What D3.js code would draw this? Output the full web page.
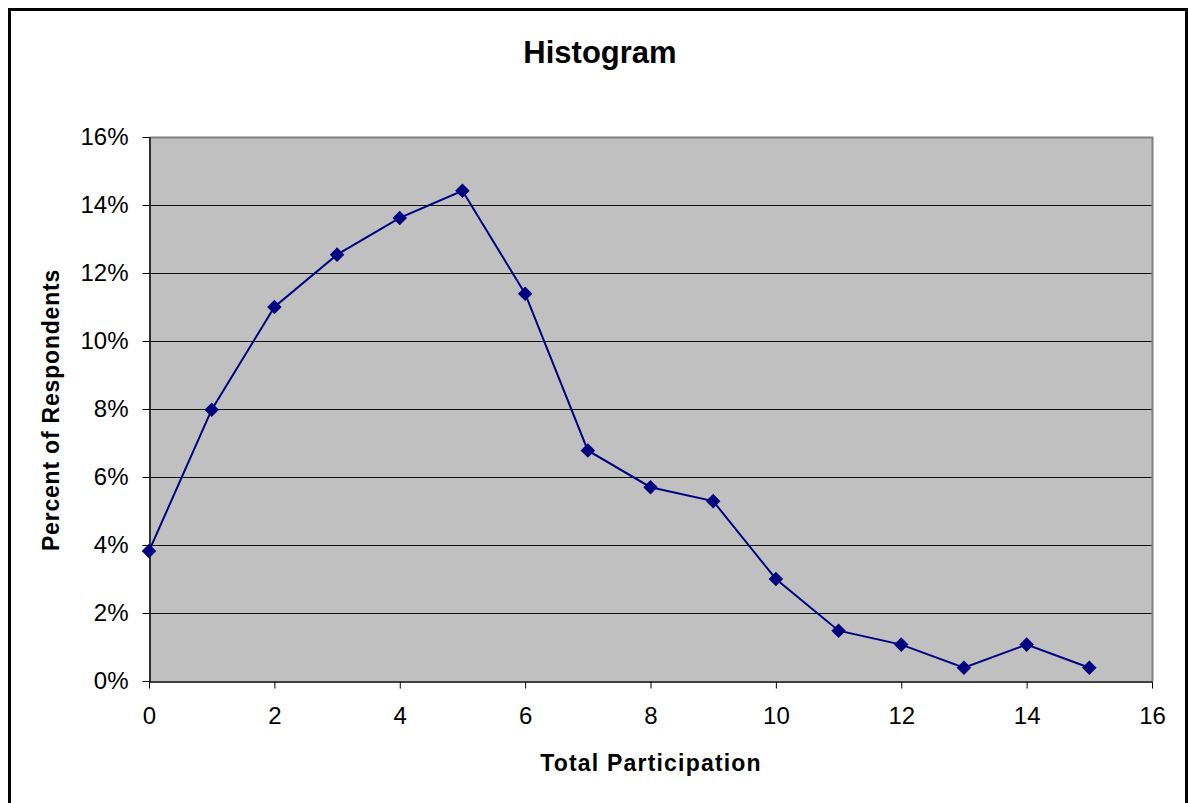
<!DOCTYPE html>
<html>
<head>
<meta charset="utf-8">
<script src="https://cdn.jsdelivr.net/npm/d3@7"></script>
<style>
  body { margin: 0; background: #fff; }
  text { font-family: "Liberation Sans", Arial, sans-serif; fill: #000; }
</style>
</head>
<body>
<svg id="chart"></svg>
<script>
// data
var participation = [0, 1, 2, 3, 4, 5, 6, 7, 8, 9, 10, 11, 12, 13, 14, 15];
var percentRespondents = [3.82, 7.98, 11.0, 12.54, 13.62, 14.42, 11.39, 6.78, 5.70, 5.29, 3.0, 1.48, 1.07, 0.39, 1.07, 0.39];
var xTicks = [0, 2, 4, 6, 8, 10, 12, 14, 16];
var yTicks = [0, 2, 4, 6, 8, 10, 12, 14, 16];

var W = 1188, H = 803;
var margin = {top: 137, right: 36, bottom: 122, left: 149};
var width = W - margin.left - margin.right;
var height = H - margin.top - margin.bottom;

var svg = d3.select("#chart").attr("width", W).attr("height", H);

// outer chart border
svg.append("rect")
    .attr("x", 9.5).attr("y", 9.5)
    .attr("width", 1177).attr("height", 820)
    .attr("fill", "#fff")
    .attr("stroke", "#000")
    .attr("stroke-width", 3);

var x = d3.scaleLinear().domain([0, 16]).range([0, width]);
var y = d3.scaleLinear().domain([0, 16]).range([height, 0]);

var g = svg.append("g")
    .attr("transform", "translate(" + margin.left + "," + margin.top + ")");

// plot area
g.append("rect")
    .attr("width", width).attr("height", height)
    .attr("fill", "#c0c0c0");

// gridlines
g.append("g")
  .selectAll("line")
  .data(yTicks.filter(function(d) { return d > 0 && d < 16; }))
  .join("line")
    .attr("x1", 0).attr("x2", width)
    .attr("y1", function(d) { return Math.round(y(d)) + 0.5; })
    .attr("y2", function(d) { return Math.round(y(d)) + 0.5; })
    .attr("stroke", "#111")
    .attr("stroke-width", 1.2);

// plot frame top and right
g.append("path")
    .attr("d", "M0.5,0.5H" + (width + 0.5) + "V" + height)
    .attr("fill", "none")
    .attr("stroke", "#808080")
    .attr("stroke-width", 2);

// x axis
var xAxis = g.append("g")
    .attr("transform", "translate(0," + (height + 0.5) + ")")
    .call(d3.axisBottom(x).tickValues(xTicks).tickSize(7).tickPadding(18).tickSizeOuter(0));
xAxis.selectAll("text").style("font-size", "24px");

// y axis
var yAxis = g.append("g")
    .attr("transform", "translate(0.5,0)")
    .call(d3.axisLeft(y).tickValues(yTicks).tickSize(7).tickPadding(14).tickSizeOuter(0)
      .tickFormat(function(d) { return d + "%"; }));
yAxis.selectAll("text").style("font-size", "24px");
g.selectAll(".domain").attr("stroke", "#000").attr("stroke-width", 1.5);
g.selectAll(".tick line").attr("stroke", "#000");

// the line
var line = d3.line()
    .x(function(d, i) { return x(participation[i]); })
    .y(function(d) { return y(d); });

g.append("path")
    .datum(percentRespondents)
    .attr("d", line)
    .attr("fill", "none")
    .attr("stroke", "#000080")
    .attr("stroke-width", 2);

// diamond markers
g.selectAll(".marker")
  .data(percentRespondents)
  .join("path")
    .attr("class", "marker")
    .attr("d", d3.symbol().type(d3.symbolDiamond2).size(135))
    .attr("transform", function(d, i) {
      return "translate(" + x(participation[i]) + "," + y(d) + ")";
    })
    .attr("fill", "#000080");

// title
svg.append("text")
    .attr("x", 600).attr("y", 63)
    .attr("text-anchor", "middle")
    .style("font-size", "31px")
    .style("font-weight", "bold")
    .text("Histogram");

// axis titles
svg.append("text")
    .attr("x", 651).attr("y", 771)
    .attr("text-anchor", "middle")
    .style("font-size", "23px")
    .style("font-weight", "bold")
    .style("letter-spacing", "1.2px")
    .text("Total Participation");

svg.append("text")
    .attr("transform", "translate(59,410) rotate(-90)")
    .attr("text-anchor", "middle")
    .style("font-size", "23px")
    .style("font-weight", "bold")
    .style("letter-spacing", "0.8px")
    .text("Percent of Respondents");
</script>
</body>
</html>
